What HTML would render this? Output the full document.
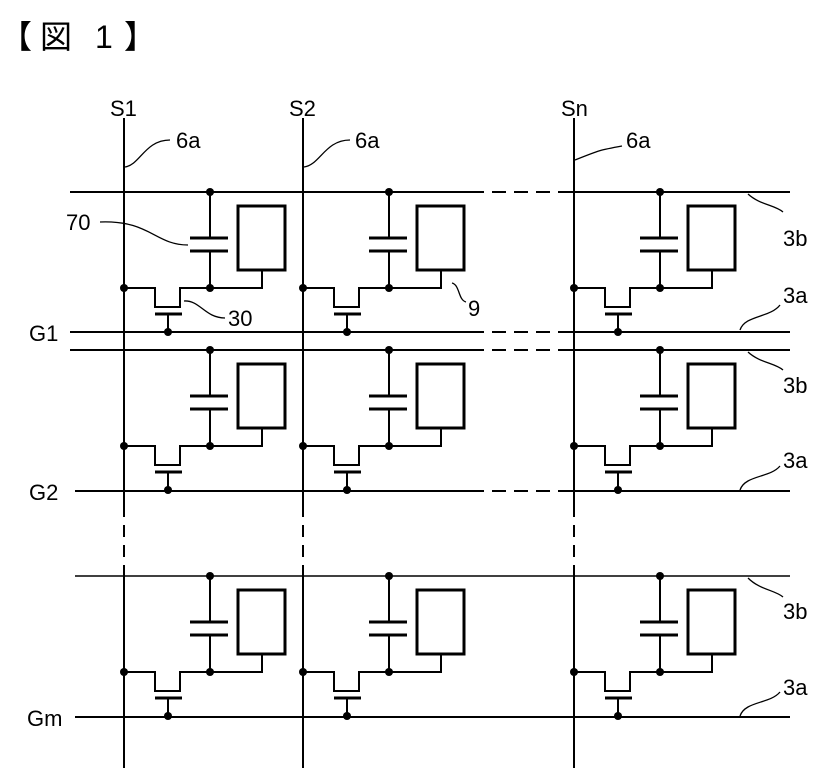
<!DOCTYPE html>
<html><head><meta charset="utf-8"><style>
html,body{margin:0;padding:0;background:#fff;}
svg{display:block;}
text{font-family:"Liberation Sans","Noto Sans CJK JP",sans-serif;fill:#000;}
</style></head><body>
<svg width="818" height="783" viewBox="0 0 818 783" xmlns="http://www.w3.org/2000/svg">
<defs>
<g id="cell" fill="none" stroke="#000" stroke-width="2">
  <line x1="86" y1="0" x2="86" y2="46"/>
  <line x1="66" y1="46" x2="104" y2="46" stroke-width="3"/>
  <line x1="66" y1="59" x2="104" y2="59" stroke-width="3"/>
  <line x1="86" y1="59" x2="86" y2="96"/>
  <rect x="114" y="14" width="47" height="64" stroke-width="3"/>
  <polyline points="0,96 31,96 31,115 56,115 56,96 138,96 138,78"/>
  <line x1="31" y1="122" x2="58" y2="122" stroke-width="3"/>
  <line x1="44" y1="122" x2="44" y2="140"/>
  <circle cx="86" cy="0" r="4" fill="#000" stroke="none"/>
  <circle cx="0" cy="96" r="4" fill="#000" stroke="none"/>
  <circle cx="86" cy="96" r="4" fill="#000" stroke="none"/>
  <circle cx="44" cy="140" r="4" fill="#000" stroke="none"/>
</g>
</defs>
<text x="0" y="48" font-size="32">【</text>
<text x="40" y="48" font-size="32">図</text>
<text x="95" y="48" font-size="32">1</text>
<text x="124" y="48" font-size="32">】</text>

<g stroke="#000" fill="none">
  <g stroke-width="2">
    <line x1="70" y1="192" x2="470" y2="192"/><line x1="565" y1="192" x2="790" y2="192"/>
    <line x1="70" y1="332" x2="470" y2="332"/><line x1="565" y1="332" x2="790" y2="332"/>
    <line x1="70" y1="350" x2="470" y2="350"/><line x1="565" y1="350" x2="790" y2="350"/>
    <line x1="75" y1="491" x2="470" y2="491"/><line x1="565" y1="491" x2="790" y2="491"/>
    <line x1="75" y1="576" x2="790" y2="576" stroke-width="1.5"/>
    <line x1="75" y1="717" x2="790" y2="717"/>
  </g>
  <g stroke-width="2" stroke-dasharray="14,8">
    <line x1="470" y1="192" x2="565" y2="192"/>
    <line x1="470" y1="332" x2="565" y2="332"/>
    <line x1="470" y1="350" x2="565" y2="350"/>
    <line x1="470" y1="491" x2="565" y2="491"/>
  </g>
  <g stroke-width="2">
    <line x1="124" y1="118" x2="124" y2="505"/><line x1="124" y1="565" x2="124" y2="768"/>
    <line x1="303" y1="118" x2="303" y2="505"/><line x1="303" y1="565" x2="303" y2="768"/>
    <line x1="574" y1="118" x2="574" y2="505"/><line x1="574" y1="565" x2="574" y2="768"/>
  </g>
  <g stroke-width="2" stroke-dasharray="12,8">
    <line x1="124" y1="505" x2="124" y2="565"/>
    <line x1="303" y1="505" x2="303" y2="565"/>
    <line x1="574" y1="505" x2="574" y2="565"/>
  </g>
</g>

<use href="#cell" transform="translate(124,192)"/>
<use href="#cell" transform="translate(303,192)"/>
<use href="#cell" transform="translate(574,192)"/>
<use href="#cell" transform="translate(124,350)"/>
<use href="#cell" transform="translate(303,350)"/>
<use href="#cell" transform="translate(574,350)"/>
<use href="#cell" transform="translate(124,576)"/>
<use href="#cell" transform="translate(303,576)"/>
<use href="#cell" transform="translate(574,576)"/>

<g stroke="#000" fill="none" stroke-width="1.3">
  <path d="M125,167 C140,165 145,140 170,140"/>
  <path d="M304,167 C320,165 325,140 350,140"/>
  <path d="M575,160 C600,150 600,150 622,146"/>
  <path d="M100,222 C150,220 155,245 188,245"/>
  <path d="M184,301 C200,300 205,318 225,318"/>
  <path d="M452,283 C460,285 458,300 466,302"/>
  <path d="M748,194 C760,205 775,205 783,212"/>
  <path d="M740,330 C745,315 770,318 780,305"/>
  <path d="M748,352 C760,363 775,363 783,370"/>
  <path d="M740,490 C745,475 770,478 780,466"/>
  <path d="M748,578 C760,590 775,590 783,597"/>
  <path d="M740,716 C745,701 770,704 780,692"/>
</g>

<g font-size="22">
  <text x="110" y="116">S1</text>
  <text x="289" y="116">S2</text>
  <text x="561" y="116">Sn</text>
  <text x="176" y="148">6a</text>
  <text x="355" y="148">6a</text>
  <text x="626" y="148">6a</text>
  <text x="66" y="230">70</text>
  <text x="228" y="326">30</text>
  <text x="468" y="316">9</text>
  <text x="783" y="246">3b</text>
  <text x="783" y="303">3a</text>
  <text x="783" y="393">3b</text>
  <text x="783" y="468">3a</text>
  <text x="783" y="619">3b</text>
  <text x="783" y="695">3a</text>
  <text x="29" y="341">G1</text>
  <text x="29" y="500">G2</text>
  <text x="27" y="726">Gm</text>
</g>
</svg>
</body></html>
